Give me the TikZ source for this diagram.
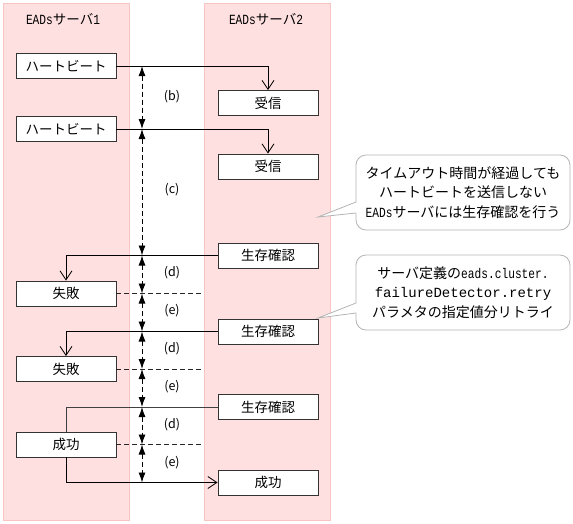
\documentclass[tikz,border=0pt]{standalone}
\usepackage{fontspec}
\setmainfont{Noto Sans CJK JP}
\newfontfamily\mono{Liberation Mono}
\newfontfamily\monon[FakeStretch=0.8]{Liberation Mono}
\usetikzlibrary{arrows.meta}
\definecolor{lanefill}{HTML}{FFE0E0}
\definecolor{laneline}{HTML}{F8C4C4}
\definecolor{callgray}{HTML}{B4B4B4}
\newcommand{\lat}[1]{{\monon\fontsize{14}{16}\selectfont #1}}
\begin{document}
\begin{tikzpicture}[x=1pt,y=-1pt,
  lane/.style={draw=laneline, fill=lanefill, line width=0.8pt},
  title/.style={font=\fontsize{13.5}{15}\selectfont},
  box/.style={draw=black!80, fill=white, line width=0.9pt, minimum width=100pt, minimum height=25pt, inner sep=0pt, font=\fontsize{13.5}{15}\selectfont},
  msg/.style={draw=black, line width=0.8pt, -{Straight Barb[length=9pt,width=12pt,line width=0.8pt]}},
  plain/.style={draw=black!75, line width=0.8pt},
  wait/.style={draw=black!85, line width=0.8pt, dash pattern=on 5pt off 3pt},
  dim/.style={draw=black, line width=0.9pt, dash pattern=on 5pt off 3pt, {Latex[length=10pt,width=7pt]}-{Latex[length=10pt,width=7pt]}},
  lbl/.style={font=\fontsize{12.5}{14}\selectfont},
  callout/.style={draw=callgray, fill=white, rounded corners=10pt, line width=0.8pt, minimum width=214pt, minimum height=75pt, align=center, font=\fontsize{14}{19.5}\selectfont}
]
\useasboundingbox (0,0) rectangle (573,523);
% lanes
\path[lane] (3,3) rectangle (129,520);
\path[lane] (204,3) rectangle (330,520);
\node[title] (t1) at (63,19) {\lat{EADs}サーバ\lat{1}};
\node[title] (t2) at (266,19) {\lat{EADs}サーバ\lat{2}};
% boxes
\node[box] (hb1) at (66,66) {ハートビート};
\node[box] (hb2) at (66,129) {ハートビート};
\node[box] (rx1) at (268,103) {受信};
\node[box] (rx2) at (268,166.5) {受信};
\node[box] (chk1) at (268,255.5) {生存確認};
\node[box] (fail1) at (66,293.5) {失敗};
\node[box] (chk2) at (268,331.5) {生存確認};
\node[box] (fail2) at (66,369) {失敗};
\node[box] (chk3) at (268,407) {生存確認};
\node[box] (ok1) at (66,444.5) {成功};
\node[box] (ok2) at (268,482.5) {成功};
% messages
\draw[msg] (hb1.east) -| (rx1.north);
\draw[msg] (hb2.east) -| (rx2.north);
\draw[msg] (chk1.west) -| (fail1.north);
\draw[msg] (chk2.west) -| (fail2.north);
\draw[plain] (chk3.west) -| (ok1.north);
\draw[msg] (ok1.south) |- (ok2.west);
% waits
\coordinate (w1) at (204,293.5);
\coordinate (w2) at (204,369);
\coordinate (w3) at (204,444.5);
\draw[wait] (fail1.east) -- (w1);
\draw[wait] (fail2.east) -- (w2);
\draw[wait] (ok1.east) -- (w3);
% dimension arrows
\coordinate (m0) at (142,66);
\coordinate (m1) at (142,129);
\coordinate (m2) at (142,255.5);
\coordinate (m3) at (142,293.5);
\coordinate (m4) at (142,331.5);
\coordinate (m5) at (142,369);
\coordinate (m6) at (142,407);
\coordinate (m7) at (142,444.5);
\coordinate (m8) at (142,482.5);
\draw[dim] (m0) -- (m1);
\draw[dim] (m1) -- (m2);
\draw[dim] (m2) -- (m3);
\draw[dim] (m3) -- (m4);
\draw[dim] (m4) -- (m5);
\draw[dim] (m5) -- (m6);
\draw[dim] (m6) -- (m7);
\draw[dim] (m7) -- (m8);
\node[lbl] (lb) at (172,97) {(b)};
\node[lbl] (lc) at (172,190) {(c)};
\node[lbl] (ld1) at (172,273) {(d)};
\node[lbl] (le1) at (172,311) {(e)};
\node[lbl] (ld2) at (172,349) {(d)};
\node[lbl] (le2) at (172,387) {(e)};
\node[lbl] (ld3) at (172,425) {(d)};
\node[lbl] (le3) at (172,463) {(e)};
% callouts
\node[callout] (c1) at (463,192.5) {タイムアウト時間が経過しても\\ハートビートを送信しない\\\lat{EADs}サーバには生存確認を行う};
\coordinate (p1) at (318,217);
\fill[white] (p1) -- (357,202) -- (357,213) -- cycle;
\draw[callgray, line width=0.8pt] (356,202) -- (p1) -- (356,213);
\node[callout] (c2) at (463,292.5) {サーバ定義の\lat{eads.cluster.}\\{\mono\fontsize{14}{16}\selectfont failureDetector.retry}\\パラメタの指定値分リトライ};
\coordinate (p2) at (318,318);
\fill[white] (p2) -- (357,303) -- (357,313) -- cycle;
\draw[callgray, line width=0.8pt] (356,303) -- (p2) -- (356,313);
\end{tikzpicture}
\end{document}
